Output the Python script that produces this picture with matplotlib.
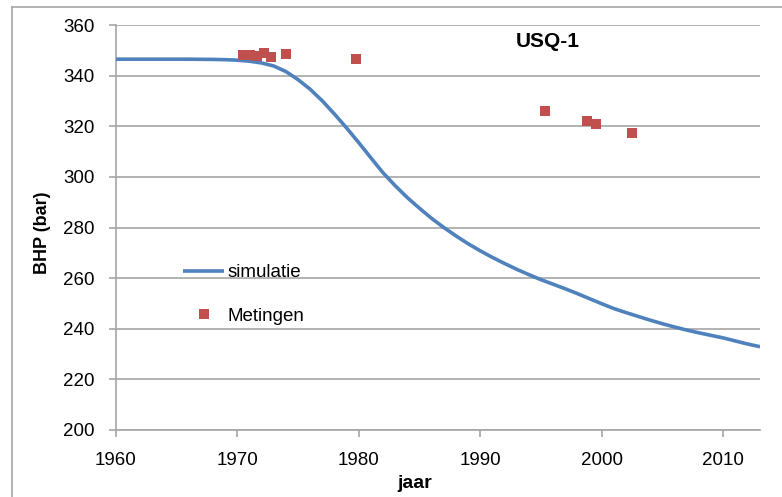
import matplotlib
matplotlib.use("Agg")
import matplotlib.pyplot as plt
from matplotlib.lines import Line2D

plt.rcParams['font.family'] = ['Liberation Sans', 'DejaVu Sans']

# simulated BHP curve
sim_years = [1960, 1966, 1968, 1969, 1970, 1971, 1972, 1973, 1974, 1975, 1976, 1977,
             1978, 1979, 1980, 1981, 1982, 1983, 1984, 1985, 1986, 1987, 1988, 1989,
             1990, 1991, 1992, 1993, 1994, 1995, 1996, 1997, 1998, 1999, 2000, 2001,
             2002, 2003, 2004, 2005, 2006, 2007, 2008, 2009, 2010, 2011, 2012, 2013.05]
sim_bhp = [346.5, 346.5, 346.4, 346.3, 346.1, 345.7, 345.0, 343.8, 341.6, 338.4, 334.6, 330.0,
           324.8, 319.3, 313.5, 307.5, 301.6, 296.5, 291.8, 287.6, 283.6, 280.0, 276.7, 273.6,
           270.8, 268.2, 265.8, 263.5, 261.4, 259.4, 257.6, 255.8, 253.9, 251.9, 249.9, 248.0,
           246.4, 244.9, 243.4, 242.0, 240.7, 239.5, 238.4, 237.4, 236.4, 235.2, 234.0, 232.9]

# measurements
meas_years = [1970.5, 1971.0, 1971.6, 1972.2, 1972.8, 1974.0, 1979.8, 1995.3, 1998.8, 1999.5, 2002.5]
meas_bhp = [348.3, 348.3, 347.8, 348.8, 347.5, 348.5, 346.6, 326.0, 322.0, 320.9, 317.4]

xticks = [1960, 1970, 1980, 1990, 2000, 2010]
yticks = [200, 220, 240, 260, 280, 300, 320, 340, 360]

fig = plt.figure(figsize=(7.82, 4.97), dpi=100)
ax = fig.add_axes([116/782, 1-430/497, (760-116)/782, (430-25)/497])

grid_c = '#A6A6A6'
ax.set_xlim(1960, 2013.05)
ax.set_ylim(200, 360)
ax.set_xticks(xticks)
ax.set_yticks(yticks)
ax.yaxis.grid(True, color=grid_c, linewidth=1.2)
ax.set_axisbelow(True)
for s in ['top', 'right']:
    ax.spines[s].set_visible(False)
ax.spines['left'].set_color(grid_c)
ax.spines['bottom'].set_color(grid_c)
ax.spines['left'].set_linewidth(1.2)
ax.spines['bottom'].set_linewidth(1.2)
ax.tick_params(axis='both', colors=grid_c, labelcolor='black', labelsize=13.5,
               length=5, width=1.2, pad=10.5)

ax.plot(sim_years, sim_bhp, color='#4F81BD', linewidth=2.6, label='simulatie', zorder=3,
        solid_capstyle='butt', solid_joinstyle='round')
ax.plot(meas_years, meas_bhp, linestyle='none', marker='s', markersize=7.5,
        color='#C0504D', label='Metingen', zorder=4, markeredgewidth=0)

ax.text(1995.6, 353.5, 'USQ-1', fontsize=15, fontweight='bold', ha='center', va='center')
ax.set_xlabel('jaar', fontsize=14, fontweight='bold')
ax.xaxis.set_label_coords((415-116)/644, (430-475)/405)
ax.set_ylabel('BHP (bar)', fontsize=13, fontweight='bold')
ax.yaxis.set_label_coords((51-116)/644, (430-233)/405)

leg = ax.legend(loc='upper left', bbox_to_anchor=(0.104, 0.409), frameon=False,
                fontsize=13.5, handlelength=2.2, handletextpad=0.15, labelspacing=1.4,
                borderpad=0, borderaxespad=0)

# outer chart border (left and top visible)
fig.add_artist(Line2D([12/782, 12/782], [0, 1-7/497], color='#A6A6A6', linewidth=1.2))
fig.add_artist(Line2D([12/782, 1], [1-7/497, 1-7/497], color='#A6A6A6', linewidth=1.2))

fig.savefig('out.png', dpi=100)
